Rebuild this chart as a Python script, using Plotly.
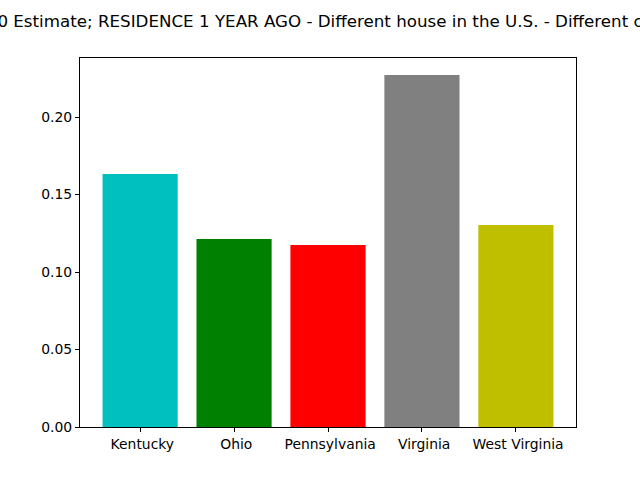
import plotly.graph_objects as go

states = [" Kentucky", " Ohio", " Pennsylvania", " Virginia", " West Virginia"]
values = [0.1632, 0.1213, 0.1174, 0.2271, 0.1303]
colors = ["#00bfbf", "#008000", "#ff0000", "#808080", "#bfbf00"]
title = "2010 Estimate; RESIDENCE 1 YEAR AGO - Different house in the U.S. - Different county"
yticks = [0.0, 0.05, 0.10, 0.15, 0.20]

positions = list(range(len(states)))

fig = go.Figure(go.Bar(x=positions, y=values, width=0.8, marker=dict(color=colors, line=dict(width=0))))

font = "DejaVu Sans, sans-serif"
axis_common = dict(showline=True, linecolor="black", linewidth=1, mirror=True,
                   ticks="outside", ticklen=4, tickwidth=1, tickcolor="black",
                   showgrid=False, zeroline=False, tickfont=dict(family=font, size=13.9, color="black"))

fig.update_layout(
    width=640, height=480,
    margin=dict(l=80, r=64, t=58, b=53),
    paper_bgcolor="white", plot_bgcolor="white",
    showlegend=False,
    title=dict(text=title, x=328/640, xanchor="center", xref="container",
               y=(480 - 21) / 480, yanchor="middle", yref="container",
               font=dict(family=font, size=16.7, color="black")),
    xaxis=dict(range=[-0.64, 4.64], tickvals=positions, ticktext=states, **axis_common),
    yaxis=dict(range=[0, 0.2381], tickvals=yticks, tickformat=".2f", **axis_common),
)

fig.write_html("out.html", config={"displayModeBar": False},
               post_script="document.body.style.margin='0';document.body.style.overflow='hidden';")
